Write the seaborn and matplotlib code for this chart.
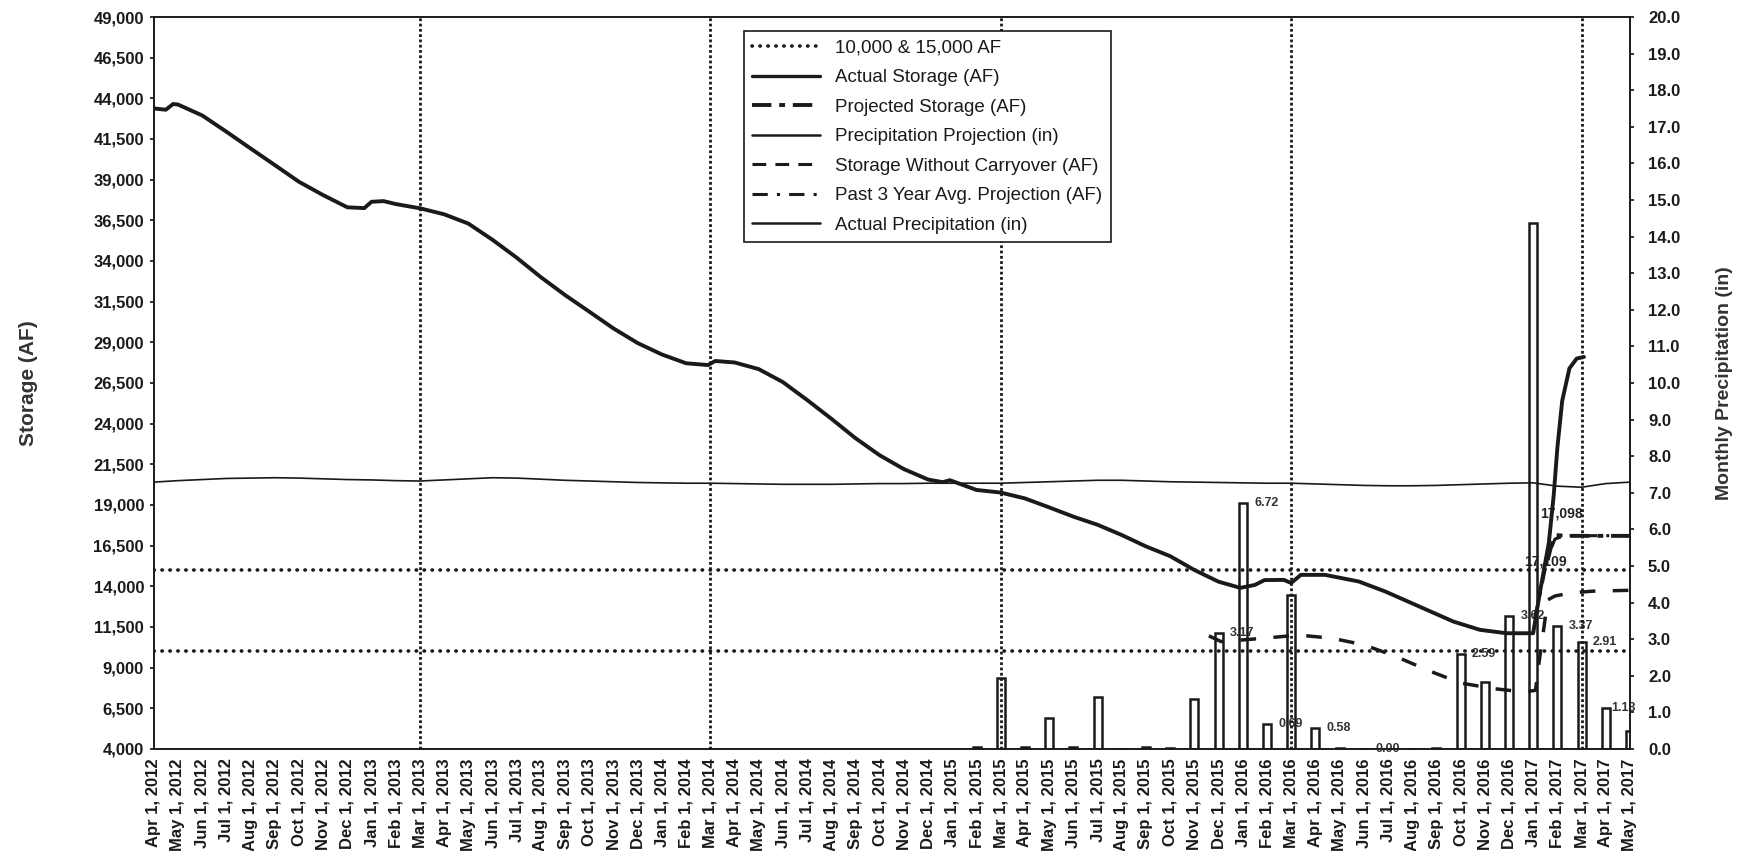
import numpy as np
import pandas as pd
import matplotlib
matplotlib.use("Agg")
import matplotlib.pyplot as plt
from matplotlib.lines import Line2D
import seaborn as sns

# x positions are month indices: 0 = Apr 1, 2012 ... 61 = May 1, 2017
month_ticks = pd.date_range("2012-04-01", "2017-05-01", freq="MS")
tick_labels = [f"{d:%b} {d.day}, {d.year}" for d in month_ticks]
march_firsts = [11, 23, 35, 47, 59]
thresholds_af = [10000, 15000]

# --- Actual storage (AF) ---
actual_x = [0, 0.5, 0.8, 1, 2, 3, 4, 5, 6, 7, 8, 8.7, 9, 9.5, 10, 11, 12, 13,
            14, 15, 16, 17, 18, 19, 20, 21, 22, 22.9, 23.2, 24, 25, 26, 27, 28,
            29, 30, 31, 32, 32.6, 32.9, 34, 35, 36, 37, 38, 39, 40, 41, 42, 43,
            44, 44.9, 45.5, 45.9, 46.7, 47, 47.4, 48.4, 49.8, 50.9, 52.3, 53.7,
            54.8, 55.9, 57.0, 57.3, 57.65, 57.85, 58.0, 58.2, 58.5, 58.8, 59.1]
actual_af = [43380, 43300, 43650, 43620, 42950, 41950, 40920, 39900, 38870,
             38050, 37300, 37250, 37640, 37680, 37500, 37240, 36870, 36300,
             35300, 34200, 33000, 31900, 30880, 29850, 28950, 28250, 27710,
             27600, 27850, 27760, 27350, 26550, 25450, 24300, 23100, 22050,
             21200, 20560, 20400, 20520, 19920, 19760, 19400, 18850, 18280,
             17780, 17150, 16450, 15850, 15000, 14280, 13900, 14080, 14380,
             14390, 14200, 14700, 14700, 14290, 13670, 12750, 11830, 11320,
             11110, 11110, 13800, 16700, 19600, 22500, 25400, 27400, 28000,
             28100]

# --- Projections (AF) ---
projected_x = [57.6, 57.75, 57.95, 58.3, 59, 60, 61]
projected_af = [15600, 16500, 17150, 17098, 17098, 17098, 17098]

past3_x = [57.05, 57.3, 57.6, 57.9, 58.3, 59, 60, 61]
past3_af = [12000, 13600, 15800, 16900, 17109, 17109, 17109, 17109]

no_carry_x = [43.6, 44.1, 45.0, 46.0, 47.3, 48.7, 50.0, 51.3, 52.7, 54.0, 55.4,
              56.6, 57.1, 57.2, 57.45, 57.6, 57.9, 58.6, 59.5, 61]
no_carry_af = [10950, 10600, 10700, 10820, 11000, 10800, 10400, 9700, 8800,
               8050, 7700, 7500, 7600, 8860, 11500, 13160, 13400, 13600, 13700,
               13750]

# --- Precipitation (in) ---
precip_proj_in = [7.29, 7.33, 7.36, 7.39, 7.40, 7.41, 7.40, 7.38, 7.36, 7.35,
                  7.33, 7.32, 7.35, 7.38, 7.41, 7.40, 7.37, 7.34, 7.32, 7.30,
                  7.28, 7.27, 7.26, 7.26, 7.25, 7.24, 7.23, 7.23, 7.23, 7.24,
                  7.25, 7.25, 7.26, 7.26, 7.26, 7.26, 7.28, 7.30, 7.32, 7.34,
                  7.34, 7.32, 7.30, 7.29, 7.28, 7.27, 7.26, 7.26, 7.24, 7.22,
                  7.20, 7.19, 7.19, 7.20, 7.22, 7.24, 7.26, 7.27, 7.18, 7.15,
                  7.25, 7.29]

precip_start = 34  # Feb 2015, first month with recorded precipitation
precip_in = [0.06, 1.93, 0.04, 0.84, 0.04, 1.41, 0.00, 0.05, 0.02, 1.36, 3.17,
             6.72, 0.69, 4.21, 0.58, 0.03, 0.00, 0.00, 0.00, 0.02, 2.59, 1.84,
             3.62, 14.36, 3.37, 2.91, 1.13, 0.50]
labelled_months = [44, 45, 46, 48, 50, 54, 56, 58, 59, 60]

# --- figure ---
sns.set_theme(style="white")
plt.rcParams["font.family"] = ["Liberation Sans", "DejaVu Sans"]

fig, ax = plt.subplots(figsize=(17.47, 8.51), dpi=100)
fig.subplots_adjust(left=0.088, right=0.933, top=0.98, bottom=0.12)
ax2 = ax.twinx()
ax.set_zorder(ax2.get_zorder() + 1)
ax.patch.set_visible(False)

# precipitation on the right axis (drawn underneath)
precip_x = np.arange(precip_start, precip_start + len(precip_in))
ax2.bar(precip_x, precip_in, width=0.33, facecolor="white", edgecolor="#1a1a1a",
        linewidth=1.8, zorder=2)
sns.lineplot(x=np.arange(len(precip_proj_in)), y=precip_proj_in, ax=ax2,
             color="#1a1a1a", linewidth=1.2, zorder=3)
for m in labelled_months:
    v = precip_in[m - precip_start]
    dx = 13 if m == 60 else 17
    ax2.annotate(f"{v:.2f}", xy=(m, v), xytext=(dx, 0), textcoords="offset points",
                 ha="center", va="center", fontsize=9, fontweight="bold",
                 color="#333333")

# reference lines
for y in thresholds_af:
    ax.axhline(y, color="#1a1a1a", linewidth=2.6, linestyle=(0, (0.1, 2.1)),
               dash_capstyle="round", zorder=1)
for m in march_firsts:
    ax.axvline(m, color="#1a1a1a", linewidth=2.0, linestyle=(0, (1, 0.9)),
               zorder=1)

# storage lines
sns.lineplot(x=actual_x, y=actual_af, ax=ax, color="#1a1a1a", linewidth=2.8,
             zorder=5)
sns.lineplot(x=no_carry_x, y=no_carry_af, ax=ax, color="#1a1a1a", linewidth=2.5,
             linestyle=(0, (4.5, 5)), zorder=4)
sns.lineplot(x=past3_x, y=past3_af, ax=ax, color="#1a1a1a", linewidth=2.2,
             linestyle=(0, (5, 3, 1, 3)), zorder=4)
sns.lineplot(x=projected_x, y=projected_af, ax=ax, color="#1a1a1a", linewidth=2.8,
             linestyle=(0, (5, 2, 1.5, 2)), zorder=4)

ax.annotate(f"{projected_af[-1]:,}", xy=(projected_x[3], projected_af[3]),
            xytext=(-2, 16), textcoords="offset points", ha="center",
            va="center", fontsize=10, fontweight="bold", color="#222222")
ax.annotate(f"{past3_af[-1]:,}", xy=(past3_x[3], past3_af[3]),
            xytext=(-7, -16), textcoords="offset points", ha="center",
            va="center", fontsize=10, fontweight="bold", color="#222222")

# axes
ax.set_xlim(0, len(tick_labels) - 1)
ax.set_ylim(4000, 49000)
ax.set_yticks(np.arange(4000, 49001, 2500))
ax.set_yticklabels([f"{v:,}" for v in range(4000, 49001, 2500)])
ax.set_xticks(np.arange(len(tick_labels)))
ax.set_xticklabels(tick_labels, rotation=90)
ax2.set_ylim(0, 20)
ax2.set_yticks(np.arange(0, 20.1, 1))
ax2.set_yticklabels([f"{v:.1f}" for v in np.arange(0, 20.1, 1)])

for a in (ax, ax2):
    a.tick_params(axis="both", labelsize=12, length=3, color="#1a1a1a",
                  labelcolor="#1a1a1a", pad=4)
    for lab in a.get_xticklabels() + a.get_yticklabels():
        lab.set_fontweight("bold")
    for s in a.spines.values():
        s.set_color("#1a1a1a")
        s.set_linewidth(1.2)
ax.tick_params(axis="x", labelsize=12)
ax2.tick_params(axis="y", pad=10)

ax.set_xlabel("")
ax.set_ylabel("Storage (AF)", fontsize=15, fontweight="bold", color="#333333",
              labelpad=40)
ax2.set_ylabel("Monthly Precipitation (in)", fontsize=14, fontweight="bold",
               color="#333333", labelpad=26)

# legend
k = "#1a1a1a"
handles = [
    Line2D([], [], color=k, linewidth=2.6, linestyle=(0, (0.1, 2.1)),
           dash_capstyle="round"),
    Line2D([], [], color=k, linewidth=2.4),
    Line2D([], [], color=k, linewidth=2.8, linestyle=(0, (5, 2, 1.5, 2))),
    Line2D([], [], color=k, linewidth=1.8),
    Line2D([], [], color=k, linewidth=2.2, linestyle=(0, (4.5, 3))),
    Line2D([], [], color=k, linewidth=2.2, linestyle=(0, (5, 3, 1, 3))),
    Line2D([], [], color=k, linewidth=1.8),
]
labels = ["10,000 & 15,000 AF", "Actual Storage (AF)", "Projected Storage (AF)",
          "Precipitation Projection (in)", "Storage Without Carryover (AF)",
          "Past 3 Year Avg. Projection (AF)", "Actual Precipitation (in)"]
leg = ax.legend(handles, labels, loc="upper left",
                bbox_to_anchor=(744 / 1747, 1 - 31 / 851),
                bbox_transform=fig.transFigure, borderaxespad=0,
                fontsize=13.5, frameon=True, fancybox=False, framealpha=1,
                edgecolor=k, handlelength=3.6, labelspacing=0.66,
                borderpad=0.45, handletextpad=0.8)
leg.get_frame().set_linewidth(1.2)
for t in leg.get_texts():
    t.set_color("#1a1a1a")

fig.savefig("out.png", dpi=100)
